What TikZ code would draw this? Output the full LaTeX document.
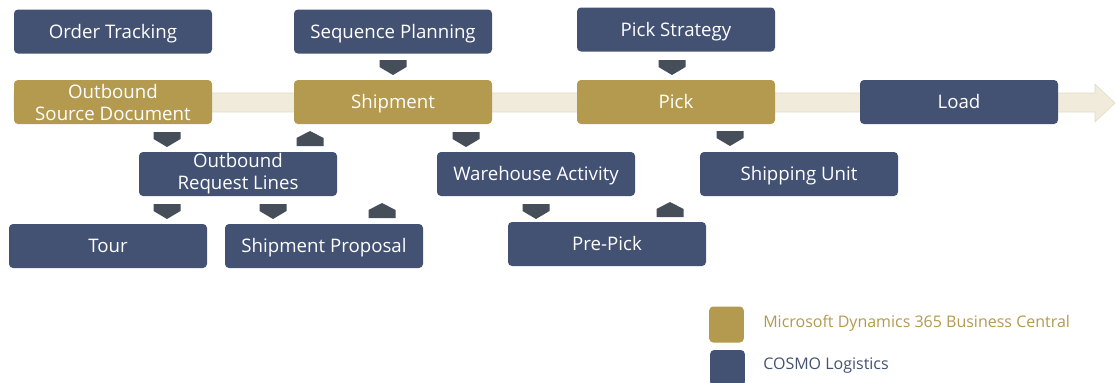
\documentclass[tikz,border=0pt]{standalone}
\usepackage{fontspec}
\setmainfont{Open Sans}
\usetikzlibrary{positioning}
\definecolor{bcgold}{HTML}{B39A4E}
\definecolor{cosmoblue}{HTML}{435172}
\definecolor{flowgray}{HTML}{464E59}
\definecolor{bandfill}{HTML}{F1EBDC}
\definecolor{bandline}{HTML}{E4DBC5}
\tikzset{proc/.style={rounded corners=3pt, minimum width=148.5pt, minimum height=33pt, inner sep=1pt, align=center, text=white, font=\fontsize{14}{16.5}\selectfont}}
\tikzset{oneline/.style={text height=10pt, text depth=0pt}}
\tikzset{bc/.style={proc, oneline, fill=bcgold}}
\tikzset{cosmo/.style={proc, oneline, fill=cosmoblue}}
\tikzset{bctwo/.style={proc, fill=bcgold}}
\tikzset{cosmotwo/.style={proc, fill=cosmoblue}}
\tikzset{legbox/.style={rounded corners=3pt, minimum width=26pt, minimum height=27pt, inner sep=0pt}}
\tikzset{legtext/.style={anchor=west, inner sep=0pt, font=\fontsize{12}{14}\selectfont}}
% little flow markers, placed by the top of their shape
\tikzset{pics/down/.style={code={\fill[flowgray] (-13.5,0) -- (13.5,0) -- (13.5,7) -- (0,15) -- (-13.5,7) -- cycle;}}}
\tikzset{pics/up/.style={code={\fill[flowgray] (-13.5,15) -- (13.5,15) -- (13.5,7) -- (0,0) -- (-13.5,7) -- cycle;}}}

\begin{document}
\begin{tikzpicture}[x=0.75pt, y=-0.75pt]
\useasboundingbox (0,0) rectangle (1117,382);

% process band
\draw[bandline, fill=bandfill] (14,93) -- (1095,93) -- (1095,84) -- (1115,103)
 -- (1095,122) -- (1095,112) -- (14,112) -- cycle;

\node[cosmo] (track) at (113,31.5) {Order Tracking};
\node[cosmo] (seqplan) at (393,31.5) {Sequence Planning};
\node[cosmo] (pickstrat) at (676,29.5) {Pick Strategy};

\node[bctwo] (srcdoc) at (113,102) {Outbound\\Source Document};
\node[bc] (shipment) at (393,102) {Shipment};
\node[bc] (pick) at (676,102) {Pick};
\node[cosmo] (load) at (959,102) {Load};

\node[cosmotwo] (reqlines) at (238,174) {Outbound\\Request Lines};
\node[cosmo] (whseact) at (536,174) {Warehouse Activity};
\node[cosmo] (shipunit) at (799,174) {Shipping Unit};

\node[cosmo] (tour) at (108,246) {Tour};
\node[cosmo] (proposal) at (324,246) {Shipment Proposal};
\node[cosmo] (prepick) at (607,244) {Pre-Pick};

% markers
\pic at (393,60) {down};
\pic at (672,60) {down};
\pic at (167,132) {down};
\pic at (310,131) {up};
\pic at (466,132) {down};
\pic at (730,131) {down};
\pic at (167,204) {down};
\pic at (273,204) {down};
\pic at (382,203) {up};
\pic at (536,204) {down};
\pic at (670,202) {up};

% legend
\node[legbox, fill=bcgold] (legbc) at (726.5,324.5) {};
\node[legbox, fill=cosmoblue] (legcosmo) at (727.5,368) {};
\node[legtext, text=bcgold] (legbctext) at (763,323) {Microsoft Dynamics 365 Business Central};
\node[legtext, text=cosmoblue] (legcosmotext) at (763,366) {COSMO Logistics};
\end{tikzpicture}
\end{document}
